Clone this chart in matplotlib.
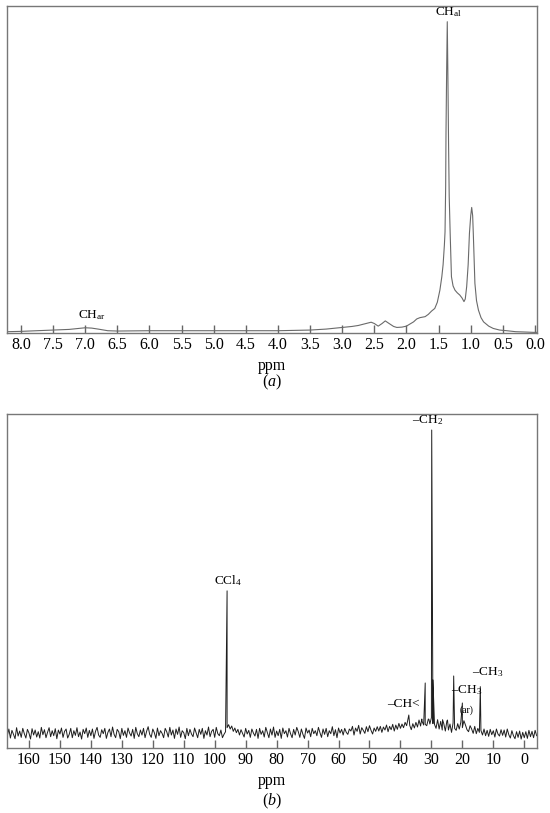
'''
1H and 13C NMR spectra, two stacked panels (a) and (b)
'''
import numpy as np
import matplotlib
matplotlib.use("Agg")
import matplotlib.pyplot as plt

plt.rcParams['font.family'] = ['Liberation Serif', 'DejaVu Serif']
plt.rcParams['mathtext.fontset'] = 'custom'
plt.rcParams['mathtext.rm'] = 'Liberation Serif'
plt.rcParams['mathtext.it'] = 'Liberation Serif:italic'

# ---------------- (a) 1H spectrum
h_ppm = [8.22, 8.0, 7.75, 7.5, 7.25, 7.1, 7.0, 6.9, 6.8, 6.65, 6.5, 6.0, 5.5, 5.0, 4.5, 4.0,
         3.5, 3.25, 3.0, 2.85, 2.75, 2.65, 2.55, 2.5, 2.44, 2.38, 2.33, 2.27, 2.2, 2.15, 2.07,
         2.0, 1.95, 1.89, 1.84, 1.79, 1.71, 1.66, 1.61, 1.56, 1.52, 1.48, 1.45, 1.43, 1.41,
         1.40, 1.39, 1.385, 1.375, 1.365, 1.355, 1.345, 1.335, 1.32, 1.30, 1.275, 1.245, 1.21,
         1.17, 1.135, 1.105, 1.085, 1.063, 1.04, 1.02, 1.00, 0.985, 0.97, 0.96, 0.935, 0.91,
         0.88, 0.84, 0.80, 0.72, 0.65, 0.55, 0.44, 0.3, 0.15, 0.03, -0.03]
h_int = [0.5, 0.6, 0.8, 1.0, 1.2, 1.5, 1.7, 1.6, 1.3, 0.8, 0.7, 0.8, 0.8, 0.8, 0.8, 0.8,
         1.0, 1.3, 1.8, 2.1, 2.4, 2.9, 3.4, 3.0, 2.2, 3.0, 3.8, 3.0, 2.1, 1.8, 1.9,
         2.2, 2.8, 3.5, 4.4, 4.8, 5.1, 5.8, 6.8, 7.6, 9.5, 13.2, 17.3, 21.0, 27.0,
         31.0, 45.0, 61.0, 80.0, 95.3, 78.0, 58.0, 42.0, 30.6, 17.3, 14.5, 13.2, 12.4,
         11.7, 10.8, 9.7, 10.5, 14.3, 21.0, 30.6, 36.0, 38.5, 36.0, 30.6, 15.3, 10.0,
         7.1, 4.8, 3.5, 2.2, 1.5, 1.0, 0.8, 0.5, 0.4, 0.3, 0.3]
h_ticks = np.arange(0, 8.01, 0.5)

# ---------------- (b) 13C spectrum: baseline read every 0.5 ppm from 167 to -4
c_base_ppm = np.arange(167, -4.01, -0.5)
c_base = [
    3.6, 5.6, 2.9, 5.2, 4.0, 2.7, 6.0, 3.5, 5.0, 3.1, 5.8, 4.2, 2.9, 5.5, 4.4, 2.6, 5.7, 3.8, 5.3, 3.2,
    4.8, 2.9, 6.1, 3.9, 5.4, 3.0, 4.6, 6.0, 3.3, 5.1, 3.6, 5.7, 2.7, 5.3, 4.1, 5.9, 3.1, 4.9, 5.6, 2.9,
    4.0, 5.8, 3.0, 5.1, 3.7, 6.0, 3.3, 4.7, 2.6, 5.5, 4.2, 5.9, 3.1, 5.2, 3.6, 5.6, 2.8, 4.9, 6.1, 3.8,
    3.1, 5.4, 4.2, 5.8, 2.8, 4.6, 5.6, 3.3, 6.2, 4.0, 3.0, 5.5, 4.8, 2.7, 5.8, 3.7, 5.1, 3.1, 5.9, 4.4,
    3.5, 5.5, 2.8, 6.1, 4.2, 3.3, 5.3, 3.8, 5.8, 3.0, 4.9, 6.3, 4.0, 3.1, 5.6, 4.5, 2.8, 5.9, 3.6, 5.1,
    4.3, 3.0, 5.8, 4.8, 3.2, 6.1, 3.8, 5.3, 2.8, 5.6, 4.0, 6.2, 3.1, 5.1, 4.5, 2.7, 5.8, 3.6, 5.5, 4.1,
    3.3, 5.9, 4.5, 3.0, 5.5, 4.0, 5.8, 2.8, 5.1, 3.8, 6.2, 3.3, 4.9, 5.5, 3.1, 6.1, 4.2, 3.6, 5.3, 3.0,
    4.0, 4.8, 6.0, 6.9, 5.6, 6.5, 4.9, 5.9, 4.5, 5.5, 3.8, 5.4, 4.3, 3.2, 5.8, 4.1, 5.2, 3.1, 5.6, 4.4,
    3.5, 5.5, 2.8, 5.8, 4.0, 5.1, 3.2, 6.1, 4.5, 3.0, 5.6, 3.8, 6.2, 3.1, 5.0, 3.6, 5.5, 2.8, 5.9, 4.2,
    5.1, 3.2, 5.8, 4.2, 3.0, 5.5, 3.8, 6.1, 4.8, 3.1, 5.6, 4.0, 2.8, 5.9, 4.4, 5.3, 3.3, 5.8, 4.2, 5.1,
    3.6, 6.1, 4.5, 3.1, 5.6, 4.0, 5.8, 3.3, 5.1, 4.2, 6.3, 3.6, 5.4, 3.0, 5.9, 4.4, 5.5, 3.8, 5.8, 4.6,
    4.0, 5.6, 5.0, 6.4, 3.8, 5.9, 4.9, 6.7, 4.1, 6.0, 5.2, 4.3, 6.3, 4.8, 6.6, 5.2, 4.1, 5.9, 4.9, 6.3,
    5.0, 6.4, 4.6, 6.2, 5.3, 6.8, 4.8, 6.4, 5.4, 7.0, 5.0, 6.8, 5.5, 7.3, 5.8, 7.1, 6.0, 7.6, 6.6, 9.0,
    6.7, 5.4, 7.2, 5.9, 7.6, 6.2, 8.3, 6.5, 7.9, 6.8, 7.0, 6.6, 8.6, 7.1, 9.0, 7.2, 7.0, 5.8, 8.4, 5.6,
    7.9, 5.3, 7.2, 5.0, 8.0, 5.3, 7.1, 4.6, 7.4, 5.8, 5.2, 7.2, 5.6, 7.6, 6.0, 8.1, 6.8, 5.4, 4.8, 6.6,
    5.6, 4.3, 6.4, 4.2, 5.8, 4.6, 5.2, 3.8, 5.6, 3.6, 5.2, 3.4, 5.5, 3.9, 5.1, 3.2, 5.6, 4.1, 3.5, 5.4,
    3.7, 5.3, 3.2, 5.6, 3.9, 2.9, 5.1, 3.6, 2.7, 4.8, 3.1, 5.0, 2.6, 4.6, 3.0, 4.8, 2.8, 5.2, 3.3, 4.9,
    3.0, 5.2, 3.6]
# narrow lines
c_peak_ppm = [96.0, 37.3, 33.1, 32.0, 30.8, 29.9, 29.5, 26.4, 24.8, 22.8, 20.0, 14.2]
c_peak_int = [47.0, 9.8, 8.6, 19.4, 8.5, 95.2, 20.3, 8.4, 8.3, 21.5, 13.4, 18.3]
c_ticks = np.arange(0, 161, 10)


def style_axis(ax, xlim, ticks, fmt):
    ax.set_xlim(xlim)
    ax.set_ylim(0, 100)
    ax.set_xticks(ticks)
    ax.set_xticklabels([fmt % t for t in ticks])
    ax.set_yticks([])
    ax.tick_params(axis='x', direction='in', length=6, width=1.0, color='#666666',
                   labelsize=11.5, pad=3)
    for sp in ax.spines.values():
        sp.set_color('#777777')
        sp.set_linewidth(1.0)


def main():
    fig = plt.figure(figsize=(5.5, 8.13), dpi=100)
    ax1 = fig.add_axes([0.0127, 0.590, 0.9636, 0.4022])
    ax2 = fig.add_axes([0.0127, 0.0803, 0.9636, 0.4105])

    # (a)
    ax1.plot(h_ppm, h_int, color='#6a6a6a', lw=0.8)
    style_axis(ax1, (8.218, -0.031), h_ticks, '%.1f')
    ax1.text(1.34, 96.0, r'CH$_{\mathrm{al}}$', ha='center', va='bottom', fontsize=9.5)
    ax1.text(6.9, 3.6, r'CH$_{\mathrm{ar}}$', ha='center', va='bottom', fontsize=9.5)
    fig.text(0.4945, 1 - 366 / 813, 'ppm', ha='center', va='center', fontsize=11.5)
    fig.text(0.4945, 1 - 382 / 813, r'($\it{a}$)', ha='center', va='center', fontsize=11.5)

    # (b)
    x = np.concatenate([c_base_ppm, c_peak_ppm])
    y = np.concatenate([c_base, c_peak_int])
    order = np.argsort(-x)
    ax2.plot(x[order], y[order], color='#1e1e1e', lw=0.7)
    style_axis(ax2, (167.1, -4.1), c_ticks, '%d')
    ax2.text(95.6, 47.8, r'CCl$_4$', ha='center', va='bottom', fontsize=9.5)
    ax2.text(31.2, 96.0, r'–CH$_2$', ha='center', va='bottom', fontsize=9.5)
    ax2.text(39.1, 13.1, r'–CH<', ha='center', va='center', fontsize=9.5)
    ax2.text(18.5, 17.3, r'–CH$_3$', ha='center', va='center', fontsize=9.5)
    ax2.text(18.7, 11.3, '(ar)', ha='center', va='center', fontsize=7)
    ax2.text(11.9, 22.8, r'–CH$_3$', ha='center', va='center', fontsize=9.5)
    fig.text(0.4945, 1 - 781 / 813, 'ppm', ha='center', va='center', fontsize=11.5)
    fig.text(0.4945, 1 - 801 / 813, r'($\it{b}$)', ha='center', va='center', fontsize=11.5)

    plt.savefig('out.png', dpi=100)


if __name__ == "__main__":
    main()
